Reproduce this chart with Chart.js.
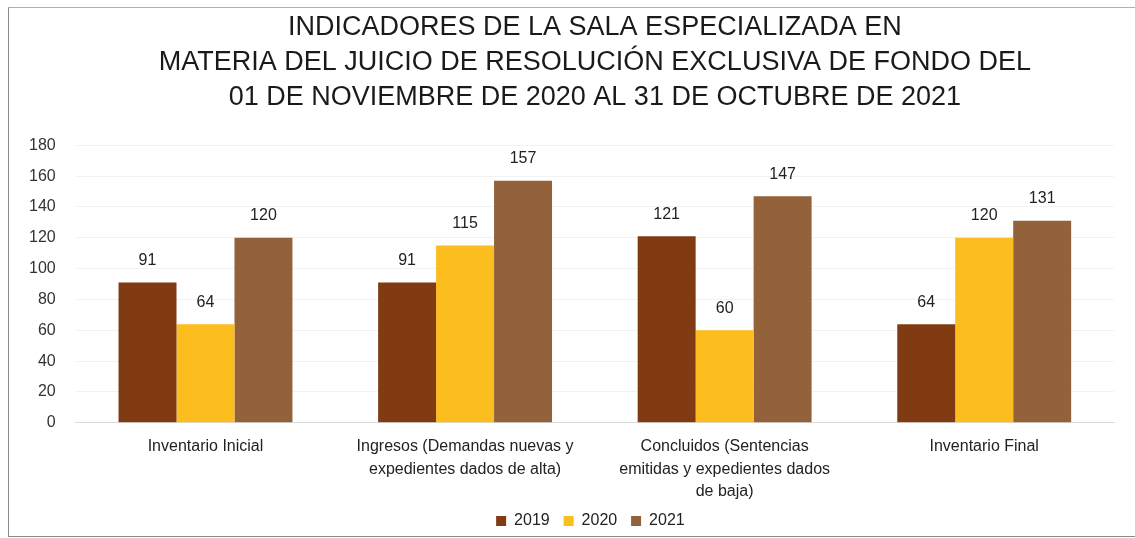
<!DOCTYPE html>
<html>
<head>
<meta charset="utf-8">
<script src="https://cdn.jsdelivr.net/npm/chart.js@4.4.0/dist/chart.umd.min.js"></script>
<style>
  html, body { margin: 0; padding: 0; background: #fff; }
  #frame {
    position: absolute; left: 8px; top: 7px;
    width: 1127px; height: 528px;
    border-left: 1px solid #8a8a8a; border-top: 1px solid #b0b0b0; border-bottom: 1px solid #8a8a8a;
  }
</style>
</head>
<body>
<div id="frame"><canvas id="chart"></canvas></div>
<script>
// ===== Data =====
const categories = [
  "Inventario Inicial",
  ["Ingresos (Demandas nuevas y", "expedientes dados de alta)"],
  ["Concluidos (Sentencias", "emitidas y expedientes dados", "de baja)"],
  "Inventario Final"
];
const years = ["2019", "2020", "2021"];
const values2019 = [91, 91, 121, 64];
const values2020 = [64, 115, 60, 120];
const values2021 = [120, 157, 147, 131];
const yTicks = [0, 20, 40, 60, 80, 100, 120, 140, 160, 180];

const titleLines = [
  "INDICADORES DE LA SALA ESPECIALIZADA EN",
  "MATERIA DEL JUICIO DE RESOLUCIÓN EXCLUSIVA DE FONDO DEL",
  "01 DE NOVIEMBRE DE 2020 AL 31 DE OCTUBRE DE 2021"
];

const colors = ["#813b13", "#fcbd1e", "#93623a"];

// ===== Value labels above bars =====
const valueLabels = {
  id: "valueLabels",
  afterDatasetsDraw(chart) {
    const ctx = chart.ctx;
    ctx.save();
    ctx.font = "16px 'Liberation Sans', Arial, sans-serif";
    ctx.fillStyle = "#222";
    ctx.textAlign = "center";
    ctx.textBaseline = "bottom";
    chart.data.datasets.forEach((ds, i) => {
      chart.getDatasetMeta(i).data.forEach((bar, j) => {
        ctx.fillText(ds.data[j], bar.x, bar.y - 14);
      });
    });
    ctx.restore();
  }
};

// ===== Chart =====
new Chart(document.getElementById("chart"), {
  type: "bar",
  data: {
    labels: categories,
    datasets: [
      { label: years[0], data: values2019, backgroundColor: colors[0] },
      { label: years[1], data: values2020, backgroundColor: colors[1] },
      { label: years[2], data: values2021, backgroundColor: colors[2] }
    ]
  },
  options: {
    responsive: true,
    maintainAspectRatio: false,
    animation: false,
    layout: { padding: { left: 0, right: 22, top: 2, bottom: -3 } },
    datasets: { bar: { barPercentage: 1, categoryPercentage: 0.67 } },
    plugins: {
      title: {
        display: true,
        fullSize: false,
        text: titleLines,
        color: "#1a1a1a",
        font: { family: "'Liberation Sans', Arial, sans-serif", size: 27, weight: "normal", lineHeight: 1.3 },
        padding: { top: 0, bottom: 30 }
      },
      legend: {
        position: "bottom",
        fullSize: false,
        labels: {
          color: "#222",
          font: { family: "'Liberation Sans', Arial, sans-serif", size: 16 },
          boxWidth: 10, boxHeight: 10, padding: 5,
          generateLabels(chart) {
            const items = Chart.defaults.plugins.legend.labels.generateLabels(chart);
            items.forEach(it => { it.text = it.text + "  "; });
            return items;
          }
        }
      },
      tooltip: { enabled: false }
    },
    scales: {
      x: {
        grid: { display: false },
        border: { color: "#d9d9d9" },
        ticks: {
          color: "#222",
          maxRotation: 0,
          autoSkip: false,
          padding: 5,
          font: { family: "'Liberation Sans', Arial, sans-serif", size: 16, lineHeight: 1.4 }
        }
      },
      y: {
        min: 0, max: 180,
        afterBuildTicks(axis) { axis.ticks = yTicks.map(v => ({ value: v })); },
        grid: { color: "rgba(0,0,0,0.05)", drawTicks: false },
        border: { display: false },
        ticks: {
          color: "#333",
          padding: 20,
          font: { family: "'Liberation Sans', Arial, sans-serif", size: 16 }
        }
      }
    }
  },
  plugins: [valueLabels]
});
</script>
</body>
</html>
